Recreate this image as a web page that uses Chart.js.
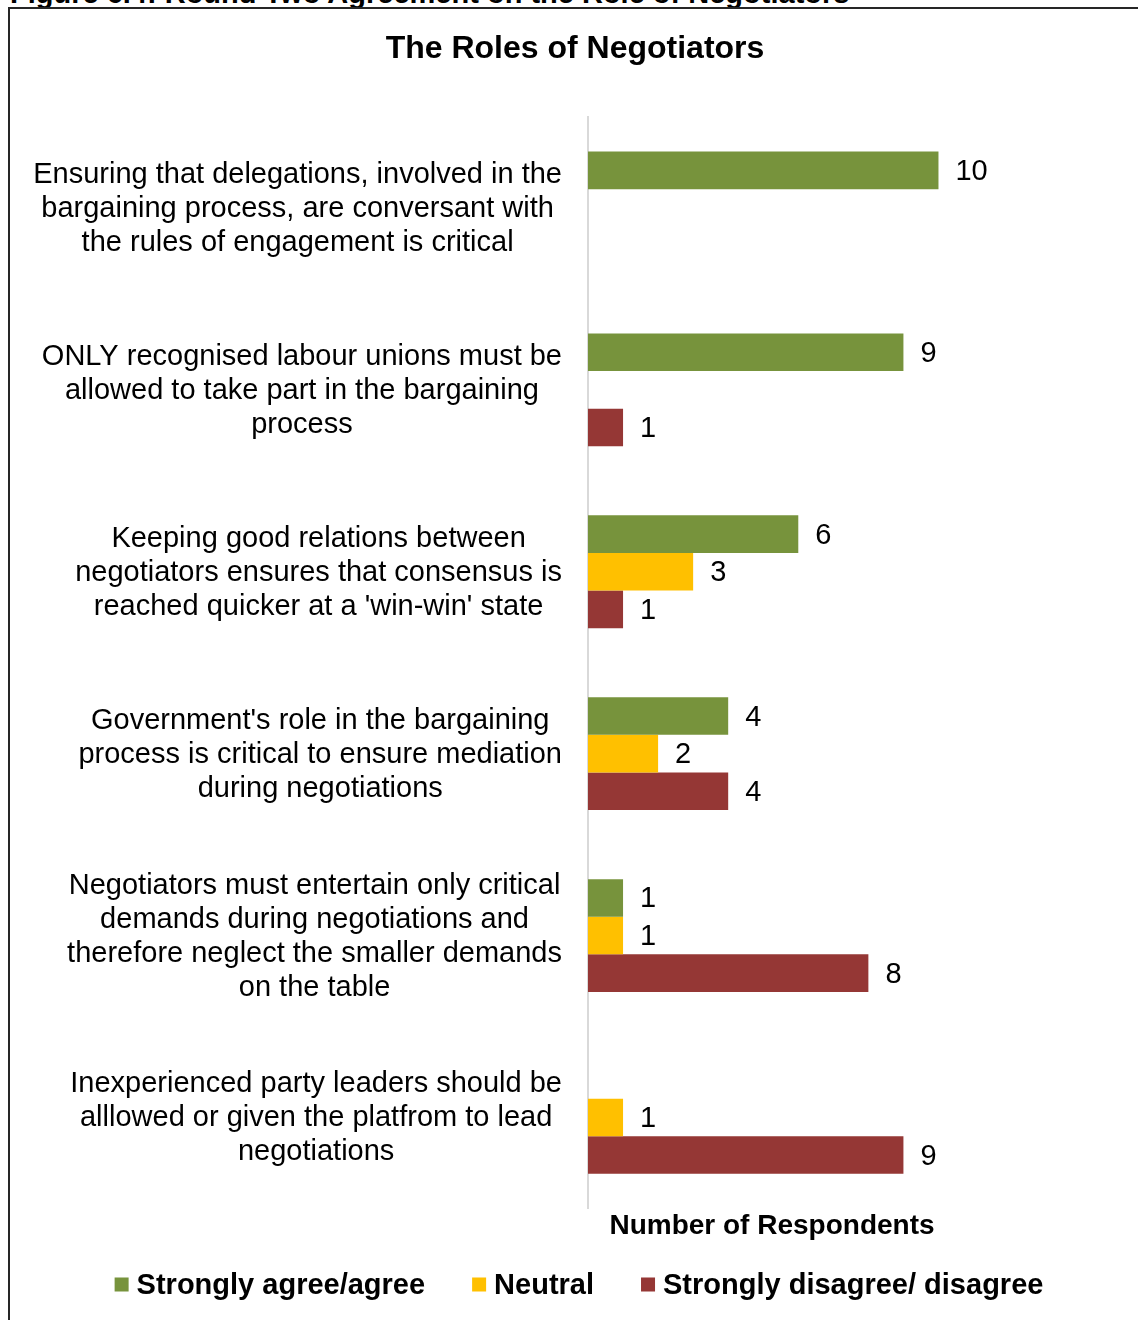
<!DOCTYPE html>
<html>
<head>
<meta charset="utf-8">
<script src="https://cdn.jsdelivr.net/npm/chart.js@4.4.1/dist/chart.umd.min.js"></script>
<style>
  html, body { margin: 0; padding: 0; background: #fff; }
  body { width: 1138px; height: 1320px; position: relative; overflow: hidden; font-family: "Liberation Sans", Arial, sans-serif; }
  #caption { position: absolute; left: 10px; top: -21px; font: bold 29px/29px "Liberation Sans", Arial, sans-serif; color: #000; white-space: nowrap; }
  #frame { position: absolute; left: 8px; top: 7px; width: 1200px; height: 1400px; border-left: 2px solid #262626; border-top: 2px solid #262626; box-sizing: border-box; background: #fff; }
  #wrap { position: absolute; left: 0; top: 0; width: 1138px; height: 1320px; }
</style>
</head>
<body>
<div id="caption">Figure 6.4: Round Two Agreement on the Role of Negotiators</div>
<div id="frame"></div>
<div id="wrap"><canvas id="chart"></canvas></div>
<script>
// Statements (one per row), each split into its printed lines
const statements = [
  ["Ensuring that delegations, involved in the", "bargaining process, are conversant with", "the rules of engagement is critical"],
  ["ONLY recognised labour unions must be", "allowed to take part in the bargaining", "process"],
  ["Keeping good relations between", "negotiators ensures that consensus is", "reached quicker at a 'win-win' state"],
  ["Government's role in the bargaining", "process is critical to ensure mediation", "during negotiations"],
  ["Negotiators must entertain only critical", "demands during negotiations and", "therefore neglect the smaller demands", "on the table"],
  ["Inexperienced party leaders should be", "alllowed or given the platfrom to lead", "negotiations"]
];

// Number of respondents per statement
const agree    = [10, 9, 6, 4, 1, 0];
const neutral  = [0, 0, 3, 2, 1, 1];
const disagree = [0, 1, 1, 4, 8, 9];

const seriesNames = ["Strongly agree/agree", "Neutral", "Strongly disagree/ disagree"];
const seriesColors = ["#77933C", "#FFC000", "#953735"];

const FONT = '"Liberation Sans", Arial, sans-serif';

// Value labels placed just past the end of every non-zero bar
const valueLabels = {
  id: 'valueLabels',
  afterDatasetsDraw(chart) {
    const ctx = chart.ctx;
    ctx.save();
    ctx.font = '29px ' + FONT;
    ctx.fillStyle = '#000';
    ctx.textAlign = 'left';
    ctx.textBaseline = 'middle';
    chart.data.datasets.forEach((ds, di) => {
      const meta = chart.getDatasetMeta(di);
      meta.data.forEach((bar, i) => {
        const v = ds.data[i];
        if (!v) return;
        ctx.fillText(String(v), bar.x + 17, bar.y + 1.5);
      });
    });
    ctx.restore();
  }
};

// Category text: each block right-aligned against the axis, its lines centred within the block
const statementLabels = {
  id: 'statementLabels',
  afterDraw(chart) {
    const ctx = chart.ctx;
    const y = chart.scales.y;
    const right = y.right - 26;
    const lineH = 34;
    ctx.save();
    ctx.font = '29px ' + FONT;
    ctx.fillStyle = '#000';
    ctx.textAlign = 'center';
    ctx.textBaseline = 'middle';
    statements.forEach((lines, i) => {
      const widest = Math.max(...lines.map(l => ctx.measureText(l).width));
      const cx = right - widest / 2;
      const cy = y.getPixelForValue(i) + 1;
      const top = cy - (lines.length - 1) * lineH / 2;
      lines.forEach((l, k) => ctx.fillText(l, cx, top + k * lineH));
    });
    ctx.restore();
  }
};

// Legend row under the axis title, centred on the frame
const legendRow = {
  id: 'legendRow',
  afterDraw(chart) {
    const ctx = chart.ctx;
    const box = 14, textGap = 8, itemGap = 47, cy = 1284.5, centre = 579;
    ctx.save();
    ctx.font = 'bold 29px ' + FONT;
    ctx.textBaseline = 'middle';
    ctx.textAlign = 'left';
    const widths = seriesNames.map(n => ctx.measureText(n).width);
    const total = widths.reduce((s, w) => s + box + textGap + w, 0) + itemGap * (seriesNames.length - 1);
    let x = centre - total / 2;
    seriesNames.forEach((n, i) => {
      ctx.fillStyle = seriesColors[i];
      ctx.fillRect(x, cy - box / 2, box, box);
      ctx.fillStyle = '#000';
      ctx.fillText(n, x + box + textGap, cy + 1);
      x += box + textGap + widths[i] + itemGap;
    });
    ctx.restore();
  }
};

new Chart(document.getElementById('chart'), {
  type: 'bar',
  data: {
    labels: statements,
    datasets: [
      { label: seriesNames[0], data: agree, backgroundColor: seriesColors[0] },
      { label: seriesNames[1], data: neutral, backgroundColor: seriesColors[1] },
      { label: seriesNames[2], data: disagree, backgroundColor: seriesColors[2] }
    ]
  },
  options: {
    indexAxis: 'y',
    responsive: true,
    maintainAspectRatio: false,
    animation: false,
    layout: { padding: { left: 12, right: 0, top: 0, bottom: 73 } },
    datasets: { bar: { barPercentage: 1.0, categoryPercentage: 0.62 } },
    scales: {
      x: {
        min: 0,
        max: 10.5,
        grid: { display: false, drawTicks: false },
        border: { display: false },
        ticks: { display: false },
        title: {
          display: true,
          text: 'Number of Respondents',
          color: '#000',
          font: { family: FONT, size: 28, weight: 'bold' },
          padding: { top: 1.5, bottom: 3.5 }
        }
      },
      y: {
        grid: { display: false, drawTicks: false },
        border: { display: true, color: '#D9D9D9', width: 2 },
        ticks: { display: false },
        afterFit(scale) { scale.width = 576; }
      },
      // empty strip on the right that leaves room for the value labels
      gutter: {
        type: 'category',
        axis: 'y',
        position: 'right',
        grid: { display: false, drawTicks: false },
        border: { display: false },
        ticks: { display: false },
        afterFit(scale) { scale.width = 182; }
      }
    },
    plugins: {
      title: {
        display: true,
        text: 'The Roles of Negotiators',
        color: '#000',
        font: { family: FONT, size: 32, weight: 'bold' },
        padding: { top: 30, bottom: 48.6 }
      },
      legend: { display: false },
      tooltip: { enabled: false }
    }
  },
  plugins: [valueLabels, statementLabels, legendRow]
});
</script>
</body>
</html>
